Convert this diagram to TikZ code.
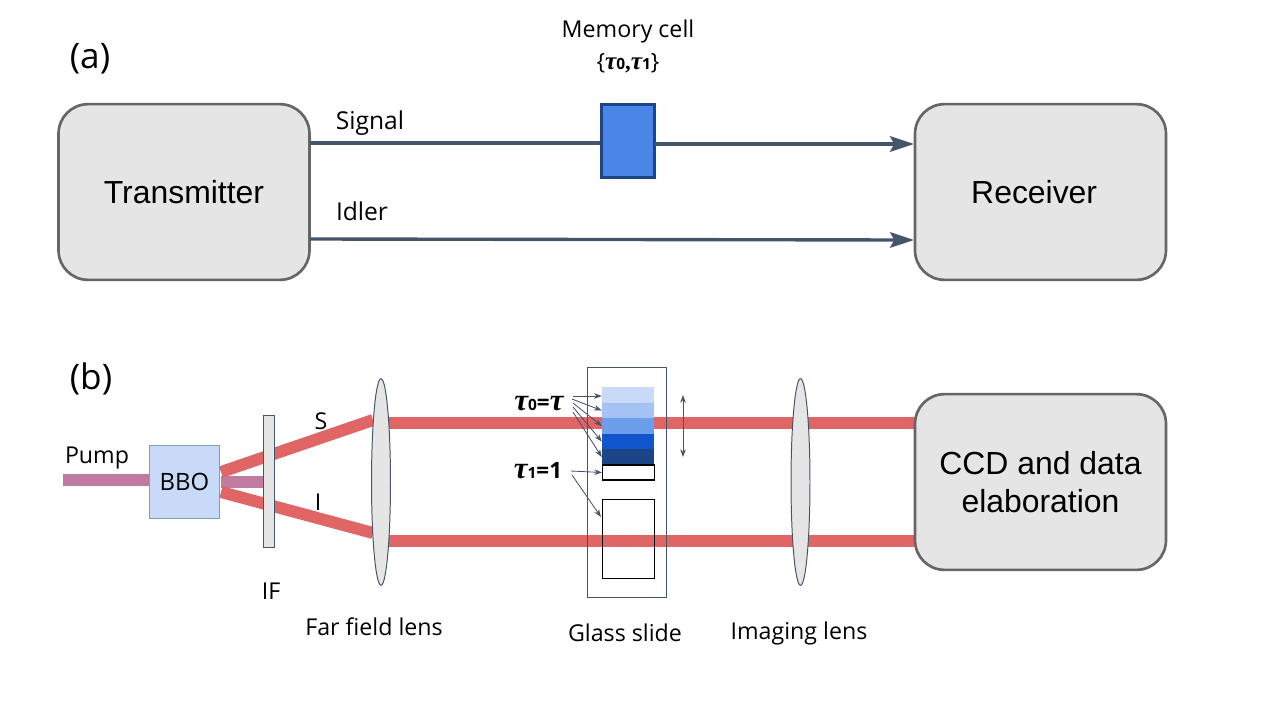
\documentclass[tikz,border=0pt]{standalone}
\usepackage{fontspec}
\setmainfont{Open Sans}
\newfontfamily\arialfont{Liberation Sans}
\newfontfamily\taufont{Liberation Serif}
\usetikzlibrary{arrows.meta,shapes.geometric,backgrounds}
\definecolor{slate}{HTML}{44546A}
\definecolor{boxgrey}{HTML}{E5E5E5}
\definecolor{boxline}{HTML}{666666}
\definecolor{beamred}{HTML}{E06666}
\definecolor{beampump}{HTML}{C27BA0}
\definecolor{cellfill}{HTML}{4A86E8}
\definecolor{cellline}{HTML}{1C4587}
\definecolor{bbofill}{HTML}{C9DAF8}
\definecolor{bboline}{HTML}{76A5AF}
\definecolor{stripA}{HTML}{C9DAF8}
\definecolor{stripB}{HTML}{A4C2F4}
\definecolor{stripC}{HTML}{6D9EEB}
\definecolor{stripD}{HTML}{1155CC}
\definecolor{stripE}{HTML}{1C4587}
\newcommand{\tauletter}[1]{{\fontsize{#1}{#1}\selectfont\taufont\bfseries\itshape τ}}
\newcommand{\tausub}[1]{{\fontsize{11}{13}\selectfont\bfseries #1}}
\tikzset{
  bigbox/.style={draw=boxline, fill=boxgrey, line width=1.9pt, rounded corners=21pt, minimum width=178.5pt, minimum height=125pt, inner sep=0pt, align=center, font=\arialfont\fontsize{22.7}{27}\selectfont},
  lbl/.style={inner sep=0pt, align=center, font=\fontsize{16.5}{20}\selectfont},
  taulbl/.style={inner sep=0pt, font=\fontsize{16}{18}\selectfont},
  wire/.style={draw=slate, line width=2.4pt},
  wirearrow/.style={wire, -{Stealth[length=17pt,width=11pt,inset=3pt]}},
  beam/.style={draw=beamred, line width=8.5pt},
  pumpbeam/.style={draw=beampump, line width=8.5pt},
  lens/.style={ellipse, draw=slate, fill=boxgrey, line width=0.7pt, minimum width=13.5pt, minimum height=147pt, inner sep=0pt},
  strip/.style={minimum width=36.9pt, minimum height=11pt, inner sep=0pt, fill=#1},
  thin arrow/.style={draw=slate, line width=0.6pt, -{Stealth[length=5.5pt,width=4pt]}},
  cell/.style={draw=black, line width=0.8pt, minimum width=36.9pt, inner sep=0pt}
}
\begin{document}
\begin{tikzpicture}[x=0.25mm,y=-0.25mm]
\useasboundingbox (0,0) rectangle (1280,720);

% part a
\node[lbl, font=\fontsize{25}{30}\selectfont] (parta) at (90,59) {(a)};
\node[bigbox] (transmitter) at (184,192) {Transmitter};
\node[bigbox] (receiver) at (1040.5,192) {\hspace{-9pt}Receiver};
\node[draw=cellline, fill=cellfill, minimum width=38pt, minimum height=52pt, inner sep=0pt, line width=2.1pt] (memory) at (628,141) {};
\node[lbl] (memlabel) at (628,31) {Memory cell};
\node[taulbl] (memtau) at (628,63) {\{\tauletter{18}\tausub{0}{\taufont\bfseries,}\tauletter{18}\tausub{1}\}};
\node[lbl, font=\fontsize{17.5}{20}\selectfont] (signal) at (370,123) {Signal};
\node[lbl, font=\fontsize{17.5}{20}\selectfont] (idler) at (362,211) {Idler};

\draw (310,143) coordinate (sigout)
      (914,144) coordinate (sigin)
      (655,144) coordinate (memout)
      (310,239) coordinate (idlout)
      (914,240) coordinate (idlin);

\draw[wire] (sigout) -- (sigout -| memory.west);
\draw[wirearrow] (memout) -- (sigin);
\draw[wirearrow] (idlout) -- (idlin);

% part b
\node[lbl, font=\fontsize{25}{30}\selectfont] (partb) at (91,379) {(b)};
\node[lbl] (pump) at (97,458) {Pump};
\node[draw=bboline, fill=bbofill, line width=0.7pt, minimum width=50pt, minimum height=52pt, inner sep=0pt, font=\fontsize{17}{20}\selectfont] (bbo) at (184.5,482) {BBO};
\node[draw=slate, fill=boxgrey, line width=0.8pt, minimum width=8pt, minimum height=94pt, inner sep=0pt] (filter) at (269,481.5) {};
\node[lens] (farlens) at (381,482) {};
\node[lens] (imglens) at (800.5,482) {};
\node[bigbox] (ccd) at (1040.5,482) {CCD and data\\elaboration};
\node[lbl] (slabel) at (321,421) {S};
\node[lbl] (ilabel) at (318,502) {I};
\node[lbl] (iflabel) at (271,591) {IF};
\node[lbl] (farlabel) at (374,627) {Far field lens};
\node[lbl] (slidelabel) at (625,633) {Glass slide};
\node[lbl] (imglabel) at (799,633) {Imaging lens};

% slide and cells
\node[draw=slate, line width=0.7pt, minimum width=56.7pt, minimum height=163pt, inner sep=0pt] (slide) at (627,482.5) {};
\node[strip=stripA] (stripa) at (628,395) {};
\node[strip=stripB] (stripb) at (628,410.5) {};
\node[strip=stripC] (stripc) at (628,426) {};
\node[strip=stripD] (stripd) at (628,441.5) {};
\node[strip=stripE] (stripe) at (628,457) {};
\node[cell, fill=white, minimum height=10.6pt] (whitecell) at (628.5,472.5) {};
\node[cell, minimum height=56.7pt] (bigcell) at (628.5,539) {};
\node[taulbl] (tauzero) at (539,404) {\tauletter{22}\tausub{0}{\bfseries =}\tauletter{22}};
\node[taulbl] (tauone) at (538,471) {\tauletter{22}\tausub{1}{\bfseries =1}};

\draw (63,480) coordinate (pumpin)
      (221,472) coordinate (sstart)
      (373,420) coordinate (send)
      (221,492) coordinate (istart)
      (373,533) coordinate (iend)
      (385,423) coordinate (sbeama)
      (914,423) coordinate (sbeamb)
      (385,541) coordinate (ibeama)
      (914,541) coordinate (ibeamb)
      (221,482) coordinate (pumpa)
      (264,482) coordinate (pumpb)
      (683,395) coordinate (movetop)
      (683,457) coordinate (movebot)
      (573,396) coordinate (ta)
      (572,399) coordinate (tb)
      (573,403) coordinate (tc)
      (573,407) coordinate (td)
      (573,412) coordinate (te)
      (571,471) coordinate (tf)
      (572,475) coordinate (tg)
      (601,517) coordinate (bighead);

\begin{scope}[on background layer]
\draw[pumpbeam] (pumpin) -- (bbo.west |- pumpin);
\draw[pumpbeam] (pumpa) -- (pumpb);
\draw[beam] (sstart) -- (send);
\draw[beam] (istart) -- (iend);
\draw[beam] (sbeama) -- (sbeamb);
\draw[beam] (ibeama) -- (ibeamb);
\end{scope}

\draw[thin arrow, {Stealth[length=5.5pt,width=4pt]}-{Stealth[length=5.5pt,width=4pt]}] (movetop) -- (movebot);
\draw[thin arrow] (ta) -- (stripa.west |- ta);
\draw[thin arrow] (tb) -- (stripb.west);
\draw[thin arrow] (tc) -- (stripc.west);
\draw[thin arrow] (td) -- (stripd.west);
\draw[thin arrow] (te) -- (stripe.west);
\draw[thin arrow] (tf) -- (whitecell.west);
\draw[thin arrow] (tg) -- (bighead);

\end{tikzpicture}
\end{document}
